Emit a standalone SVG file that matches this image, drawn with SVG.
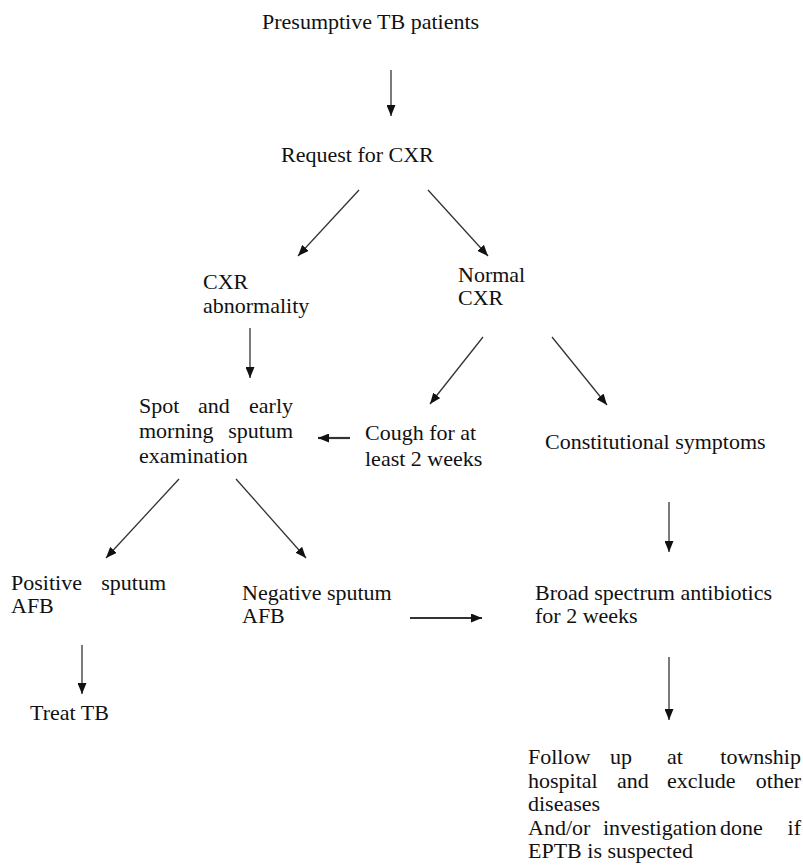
<svg xmlns="http://www.w3.org/2000/svg" width="803" height="867" viewBox="0 0 803 867">
<defs>
<marker id="ah" markerUnits="userSpaceOnUse" markerWidth="11" markerHeight="9" refX="11" refY="4.5" orient="auto">
<path d="M0,0 L11,4.5 L0,9 z" fill="#111"/>
</marker>
</defs>
<rect width="803" height="867" fill="#fff"/>
<g id="connectors" stroke="#333" stroke-width="1.3" fill="none" marker-end="url(#ah)">
<line x1="391" y1="70" x2="391" y2="116"/>
<line x1="359" y1="190" x2="298" y2="256"/>
<line x1="428" y1="190" x2="488" y2="256"/>
<line x1="250" y1="328" x2="250" y2="378"/>
<line x1="483" y1="337" x2="430" y2="404"/>
<line x1="552" y1="337" x2="607" y2="405"/>
<line stroke-width="2.2" x1="350" y1="438" x2="318" y2="438"/>
<line x1="669" y1="502" x2="669" y2="552"/>
<line x1="179" y1="479" x2="106" y2="558"/>
<line x1="236" y1="479" x2="306" y2="558"/>
<line stroke-width="2.2" x1="410" y1="618" x2="482" y2="618"/>
<line x1="82" y1="645" x2="82" y2="694"/>
<line x1="669" y1="657" x2="669" y2="720"/>
</g>
<g font-family="Liberation Serif" font-size="22" fill="#111">
<g id="presumptive"><text x="262" y="29">Presumptive TB patients</text></g>
<g id="request"><text x="281" y="162">Request for CXR</text></g>
<g id="abnormal"><text x="203" y="289">CXR</text><text x="203" y="313">abnormality</text></g>
<g id="normal"><text x="458" y="282">Normal</text><text x="458" y="305">CXR</text></g>
<g id="spot">
<text x="139" y="413">Spot</text><text x="198" y="413">and</text><text text-anchor="end" x="293" y="413">early</text>
<text x="139" y="438">morning</text><text text-anchor="end" x="293" y="438">sputum</text>
<text x="139" y="463">examination</text>
</g>
<g id="cough"><text x="365" y="440">Cough for at</text><text x="365" y="466">least 2 weeks</text></g>
<g id="constitutional"><text x="545" y="449">Constitutional symptoms</text></g>
<g id="positive"><text x="11" y="590">Positive</text><text text-anchor="end" x="166" y="590">sputum</text><text x="11" y="613">AFB</text></g>
<g id="negative"><text x="242" y="600">Negative sputum</text><text x="242" y="623">AFB</text></g>
<g id="antibiotics"><text x="535" y="600">Broad spectrum antibiotics</text><text x="535" y="623">for 2 weeks</text></g>
<g id="treat"><text x="30" y="720">Treat TB</text></g>
<g id="followup">
<text x="528" y="764">Follow</text><text x="610" y="764">up</text><text x="667" y="764">at</text><text text-anchor="end" x="801" y="764">township</text>
<text x="528" y="788">hospital</text><text x="617" y="788">and</text><text x="667" y="788">exclude</text><text text-anchor="end" x="801" y="788">other</text>
<text x="528" y="811">diseases</text>
<text x="528" y="835">And/or</text><text x="603" y="835">investigation</text><text x="720" y="835">done</text><text text-anchor="end" x="801" y="835">if</text>
<text x="528" y="858">EPTB is suspected</text>
</g>
</g>
</svg>
